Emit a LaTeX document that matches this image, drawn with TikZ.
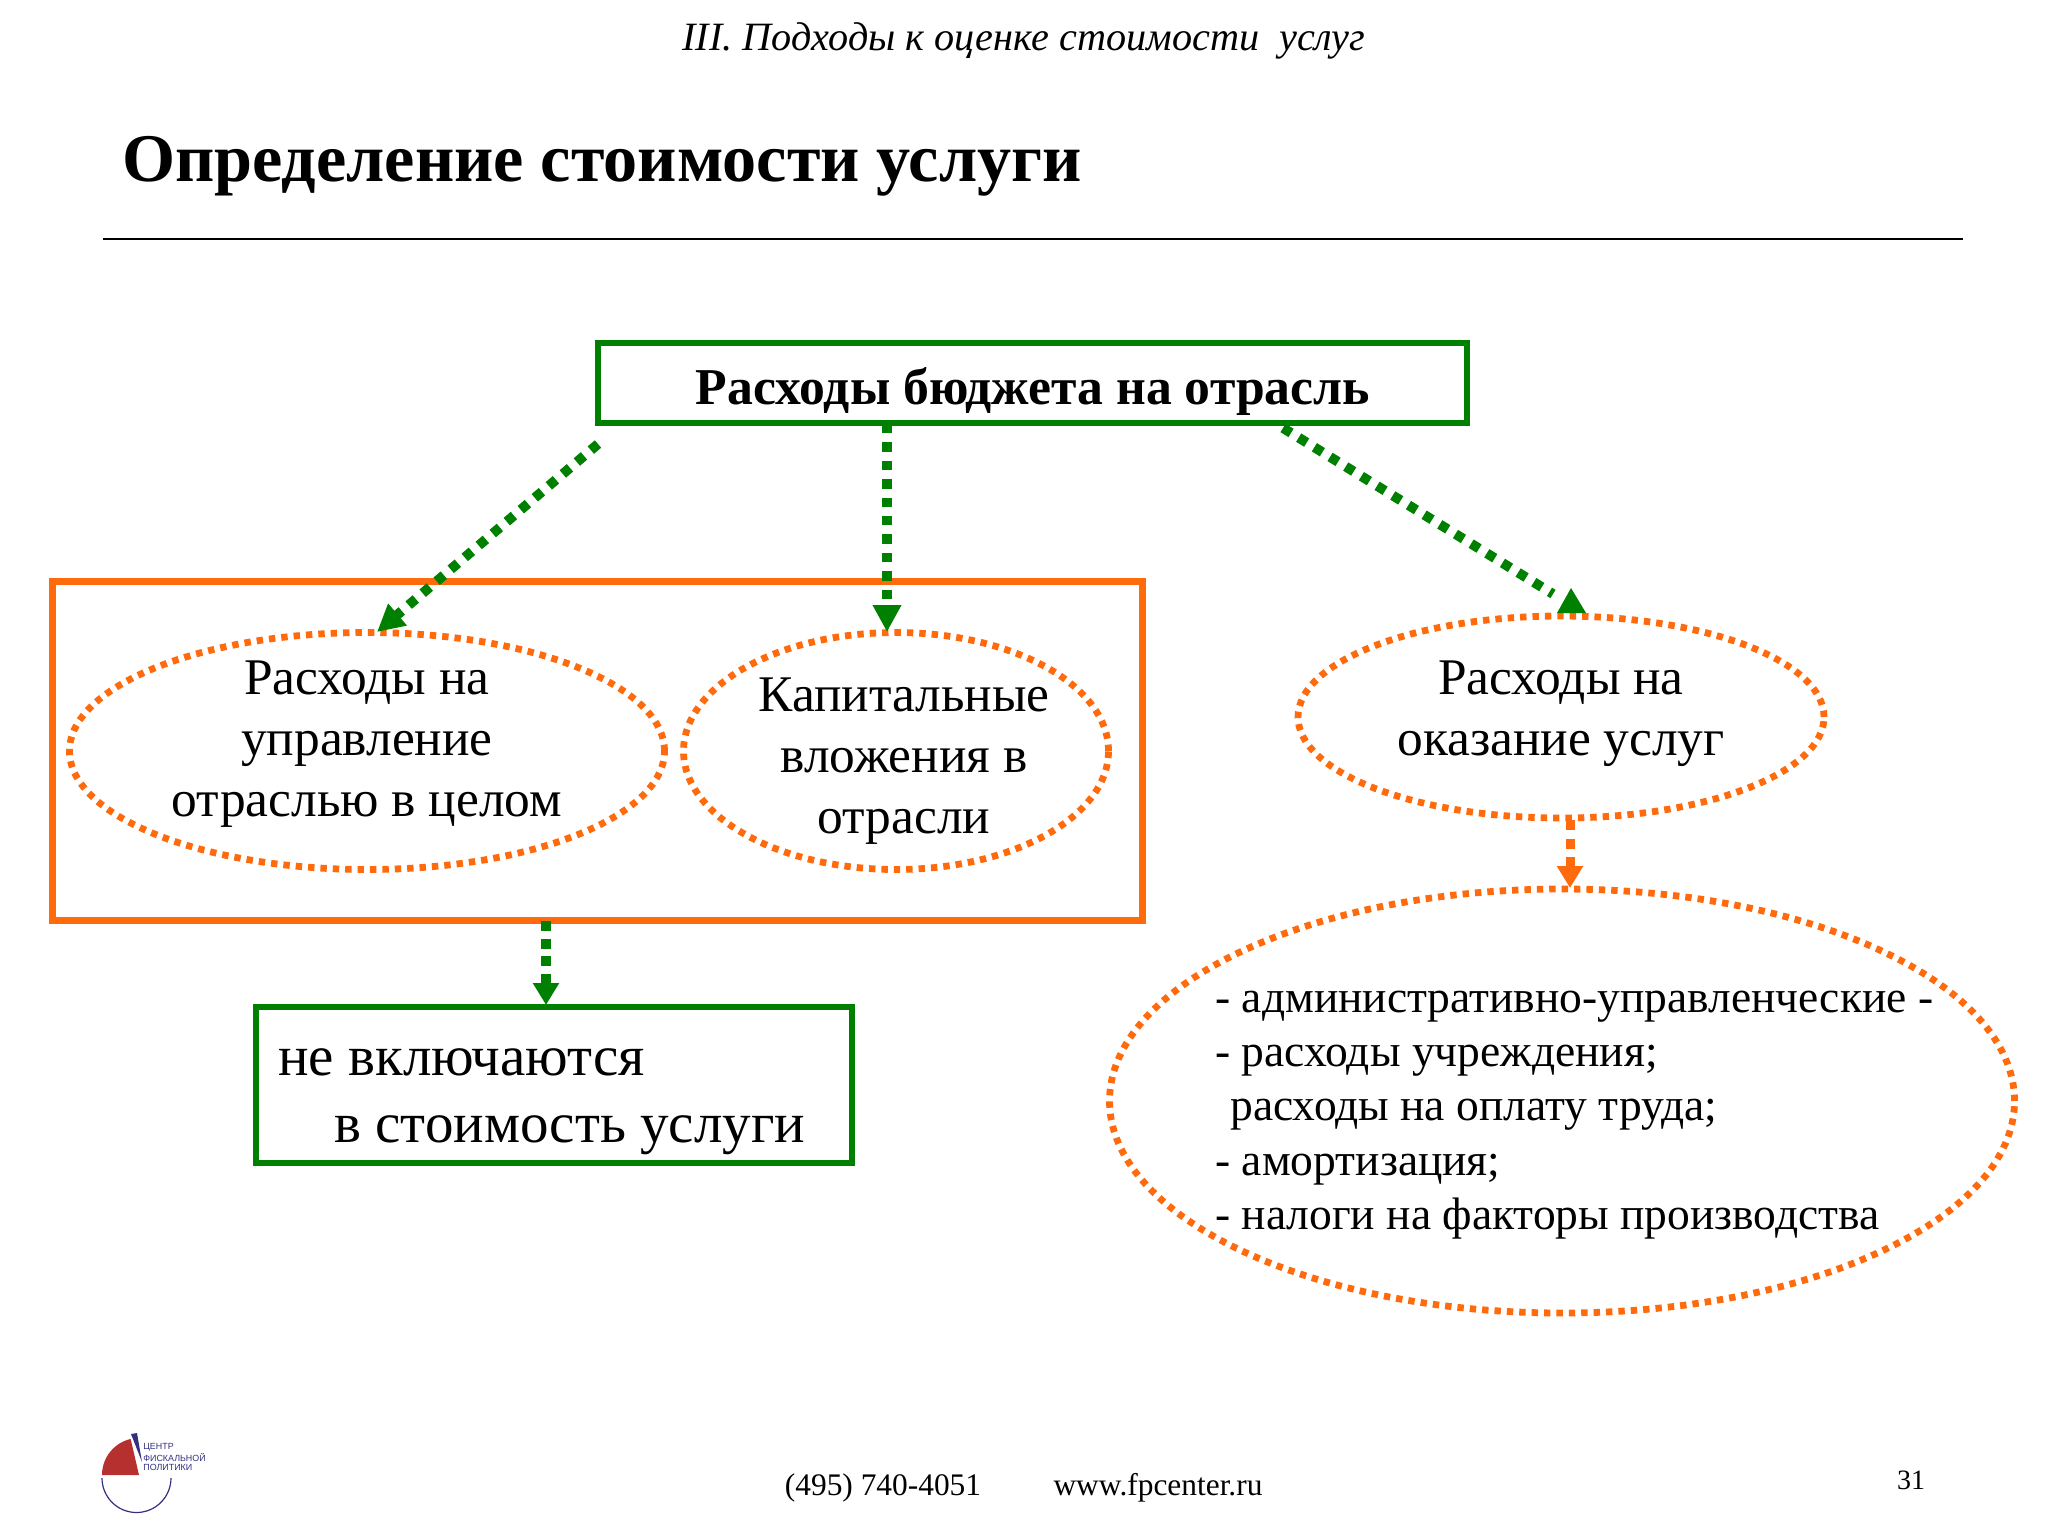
\documentclass[tikz,border=0pt]{standalone}
\usepackage{fontspec}
\setmainfont{Liberation Serif}
\newfontfamily\logofont{Liberation Sans}
\usetikzlibrary{arrows.meta}
\usetikzlibrary{positioning}
\usetikzlibrary{shapes.geometric}
\definecolor{boxgreen}{HTML}{008000}
\definecolor{boxorange}{HTML}{FF6A0D}
\definecolor{logored}{HTML}{B5302E}
\definecolor{logoblue}{HTML}{34307F}
\newcommand{\fsize}[2]{\fontsize{#1}{#2}\selectfont}
\tikzset{
  greenbox/.style={draw=boxgreen, line width=3pt, inner sep=0pt},
  orangebox/.style={draw=boxorange, line width=3.5pt, inner sep=0pt},
  oval/.style={ellipse, draw=boxorange, line width=3.4pt, inner sep=0pt, dash pattern=on 3.2pt off 3pt},
  greendots/.style={draw=boxgreen, line width=4.9pt, dash pattern=on 4.7pt off 4.5pt},
  greenarrow/.style={greendots, -{Triangle[length=13.5pt,width=13.5pt,fill=boxgreen]}},
  shortarrow/.style={greendots, dash pattern=on 5pt off 3.75pt, -{Triangle[length=11pt,width=12.5pt,fill=boxgreen]}},
  orangearrow/.style={draw=boxorange, line width=4.5pt, dash pattern=on 5pt off 4.25pt, -{Triangle[length=11pt,width=12.5pt,fill=boxorange]}},
  label/.style={align=center, inner sep=0pt, font=\fsize{25.7}{30.5}},
}
\begin{document}
\begin{tikzpicture}[x=0.5pt, y=-0.5pt]
        \useasboundingbox (0,0) rectangle (2048,1536);

        \node (header) at (1024,41) [inner sep=0pt, font=\fsize{20.1}{24}\itshape] {III. Подходы к оценке стоимости \ услуг};
        \node (title) at (602,166) [inner sep=0pt, font=\fsize{34.1}{41}\bfseries] {Определение стоимости услуги};
        \coordinate (ruleL) at (103,239);
        \coordinate (ruleR) at (1963,239);
        \draw [line width=1.3pt] (ruleL) -- (ruleR);

        \node (top) at (1032,383) [greenbox, minimum width=434.5pt, minimum height=40pt] {};
        \node (topText) at (1033,391) [inner sep=0pt, font=\fsize{25.85}{30}\bfseries] {Расходы бюджета на отрасль};

        \node (group) at (597,751) [orangebox, minimum width=545pt, minimum height=169.5pt] {};
        \node (mgmt) at (367,751) [oval, minimum width=297.5pt, minimum height=118.5pt] {};
        \node (mgmtText) at (367,744) [label] {Расходы на\\управление\\отраслью в целом};
        \node (capex) at (896,751) [oval, minimum width=212.5pt, minimum height=118.5pt] {};
        \node (capexText) at (904,761) [label] {Капитальные\\вложения в\\отрасли};
        \node (serv) at (1561,717) [oval, minimum width=263pt, minimum height=101pt] {};
        \node (servText) at (1561,714) [label] {Расходы на\\оказание услуг};
        \node (items) at (1562,1101) [oval, minimum width=452.5pt, minimum height=212pt] {};
        \node (itemsText) at (1215,1115) [anchor=west, align=left, inner sep=0pt, font=\fsize{22.75}{27.2}] {- административно-управленческие -\\- расходы учреждения;\\\hspace*{7.5pt}расходы на оплату труда;\\- амортизация;\\- налоги на факторы производства};

        \node (excl) at (554,1085) [greenbox, minimum width=298pt, minimum height=78pt] {};
        \node (exclA) at (278,1062) [anchor=west, inner sep=0pt, font=\fsize{28.5}{34}] {не включаются};
        \node (exclB) at (334,1135) [anchor=west, inner sep=0pt, font=\fsize{28.5}{34}] {в стоимость услуги};

        \coordinate (fromL) at (598,444);
        \coordinate (toL) at (377,632);
        \coordinate (fromM) at (887,424);
        \coordinate (toM) at (887,632);
        \coordinate (fromR) at (1283,428);
        \coordinate (toR) at (1553,594);
        \coordinate (tipR) at (1571,588);
        \coordinate (baseRa) at (1557,613);
        \coordinate (baseRb) at (1586,613);
        \coordinate (fromG) at (546,921);
        \coordinate (toG) at (546,1005);
        \coordinate (fromS) at (1570,820);
        \coordinate (toS) at (1570,888);
        \draw [greenarrow] (fromL) -- (toL);
        \draw [greenarrow] (fromM) -- (toM);
        \draw [greendots] (fromR) -- (toR);
        \fill [boxgreen] (tipR) -- (baseRa) -- (baseRb) -- cycle;
        \draw [shortarrow] (fromG) -- (toG);
        \draw [orangearrow] (fromS) -- (toS);

        \fill [logored] (139,1475) -- (102,1475) arc (180:257:37) -- cycle;
        \fill [logoblue] (131,1434) -- (137,1433) -- (142,1462) -- cycle;
        \draw [logoblue, line width=0.6pt] (102,1478) arc (180:0:34.5);
        \node (logoText) at (143,1457) [anchor=west, align=left, inner sep=0pt, text=logoblue, font=\logofont\fsize{4.45}{4.8}] {ЦЕНТР\\ФИСКАЛЬНОЙ\\ПОЛИТИКИ};

        \node (phone) at (883,1488) [inner sep=0pt, font=\fsize{15.7}{19}] {(495) 740-4051};
        \node (site) at (1158,1488) [inner sep=0pt, font=\fsize{15.7}{19}] {www.fpcenter.ru};
        \node (page) at (1911,1480) [inner sep=0pt, font=\fsize{14}{17}] {31};
\end{tikzpicture}
\end{document}
